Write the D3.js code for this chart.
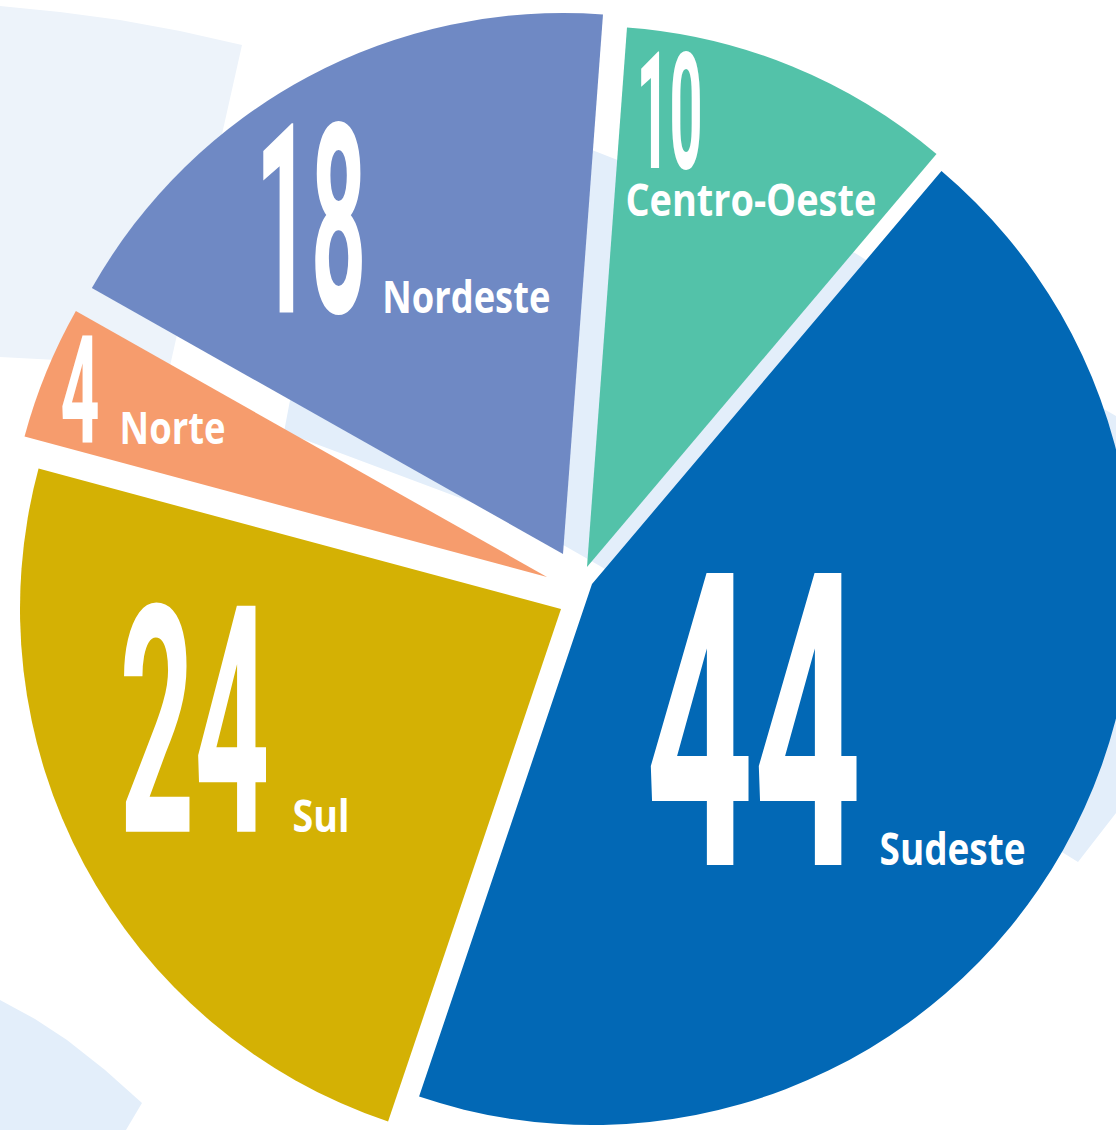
<!DOCTYPE html>
<html>
<head>
<meta charset="utf-8">
<script src="https://cdn.jsdelivr.net/npm/d3@7"></script>
<style>
  body { margin: 0; background: #fff; }
  svg { display: block; }
</style>
</head>
<body>
<div id="chart"></div>
<script>
// data
const regions = ["Centro-Oeste", "Sudeste", "Sul", "Norte", "Nordeste"];
const shares = [10, 44, 24, 4, 18];
const colors = ["#53c2a9", "#0268b5", "#d4b104", "#f69c6d", "#6f89c4"];

// layout
const width = 1116, height = 1130;
const center = [574, 590];
const radius = 541;
const startAngle = 4.24 * Math.PI / 180;

// how far each slice is pulled away from the centre
const explode = [[13, -23], [18, -6], [-13, 19], [-27, -13], [-11, -36]];

// big number and name boxes, placed from the slice centroid
const numberBox = [
    { h: 116, w: 66,  dx: -53,  dy: -149 },
    { h: 292, w: 216, dx: -182, dy: 148 },
    { h: 226, w: 150, dx: -203, dy: 95 },
    { h: 107, w: 39,  dx: -236, dy: -33 },
    { h: 189, w: 111, dx: -180, dy: -3 }
];
const nameBox = [
    { w: 251, dx: -64,  dy: -101 },
    { w: 146, dx: 52,   dy: 148 },
    { w: 57,  dx: -30,  dy: 95 },
    { w: 106, dx: -177, dy: -31 },
    { w: 168, dx: -53,  dy: -3 }
];

// faint shapes behind the pie
const ghostColors = ["#edf3fa", "#e3eefa", "#e3eefa"];
const ghosts = [
    [[-10, 5], [0, 6], [60, 12], [120, 20], [180, 31], [242, 45], [170, 366], [0, 357], [-10, 357]],
    [[355, 58], [592, 150], [855, 253], [1097, 405], [1130, 424], [1130, 795], [1078, 862],
     [600, 566], [565, 546], [487, 508], [284, 432]],
    [[-10, 995], [0, 1000], [35, 1019], [67, 1040], [105, 1070], [142, 1103], [120, 1140], [-10, 1140]]
];

const data = regions.map((r, i) => ({ region: r, value: shares[i], color: colors[i], i }));

const svg = d3.select("#chart")
    .append("svg")
        .attr("width", width)
        .attr("height", height);

svg.append("rect")
    .attr("width", width)
    .attr("height", height)
    .attr("fill", "#fff");

svg.append("g")
    .selectAll("path")
    .data(ghosts)
    .join("path")
        .attr("d", d => d3.line().curve(d3.curveLinear)(d) + "Z")
        .attr("fill", (d, i) => ghostColors[i]);

const pie = d3.pie()
    .sort(null)
    .value(d => d.value)
    .startAngle(startAngle)
    .endAngle(startAngle + 2 * Math.PI);

const arc = d3.arc()
    .innerRadius(0)
    .outerRadius(radius);

const arcs = pie(data);

const slices = svg.append("g")
    .attr("transform", `translate(${center[0]}, ${center[1]})`)
    .selectAll("g")
    .data(arcs)
    .join("g")
        .attr("transform", d => `translate(${explode[d.data.i][0]}, ${explode[d.data.i][1]})`);

slices.append("path")
    .attr("d", arc)
    .attr("fill", d => d.data.color);

// squeeze a text sideways so it fills the given width
const fitText = (node, x, y, w) => {
    const len = node.getComputedTextLength();
    d3.select(node).attr("transform", `translate(${x}, ${y}) scale(${w / len}, 1)`);
};

// big numbers
slices.append("text")
    .attr("font-family", "Roboto, sans-serif")
    .attr("font-weight", 700)
    .attr("font-size", d => numberBox[d.data.i].h / 0.711)
    .attr("fill", "#fff")
    .text(d => d.data.value)
    .each(function(d) {
        const [cx, cy] = arc.centroid(d);
        const b = numberBox[d.data.i];
        fitText(this, cx + b.dx, cy + b.dy, b.w);
    });

// region names
slices.append("text")
    .attr("font-family", "'Open Sans', sans-serif")
    .attr("font-weight", 700)
    .attr("font-size", 44)
    .attr("fill", "#fff")
    .text(d => d.data.region)
    .each(function(d) {
        const [cx, cy] = arc.centroid(d);
        const b = nameBox[d.data.i];
        fitText(this, cx + b.dx, cy + b.dy, b.w);
    });
</script>
</body>
</html>
